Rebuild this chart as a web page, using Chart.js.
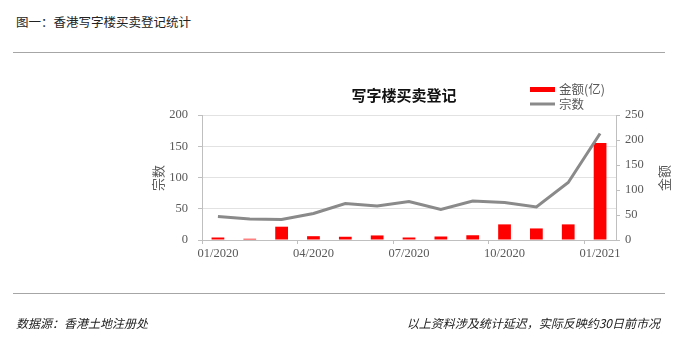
<!DOCTYPE html>
<html>
<head>
<meta charset="utf-8">
<script src="https://cdn.jsdelivr.net/npm/chart.js@4.4.0/dist/chart.umd.min.js"></script>
<style>
  body { margin: 0; background: #fff; }
  #wrap { position: relative; width: 682px; height: 353px; overflow: hidden; }
  #myChart { position: absolute; left: 0; top: 0; }
  .txt { position: absolute; font-family: "Noto Sans CJK SC", sans-serif; color: #222; white-space: nowrap; }
  .rule { position: absolute; left: 13px; width: 652px; height: 1px; background: #a6a6a6; }
</style>
</head>
<body>
<div id="wrap">
  <div class="txt" style="left:16px; top:12px; font-size:12.5px;">图一：香港写字楼买卖登记统计</div>
  <div class="rule" style="top:52px;"></div>
  <canvas id="myChart" width="682" height="353"></canvas>
  <div class="rule" style="top:293px;"></div>
  <div class="txt" style="left:16px; top:314px; font-size:12px; font-style:italic;">数据源：香港土地注册处</div>
  <div class="txt" style="right:22px; top:314px; font-size:12px; font-style:italic;">以上资料涉及统计延迟，实际反映约30日前市况</div>
</div>
<script>
let monthLabels = [
  "01/2020", "02/2020", "03/2020", "04/2020", "05/2020", "06/2020", "07/2020",
  "08/2020", "09/2020", "10/2020", "11/2020", "12/2020", "01/2021",
];
// 金额(亿) - bars
let amountData = [4.0, 2.0, 21.3, 6.1, 5.2, 7.3, 4.0, 5.6, 7.6, 25.0, 18.5, 25.0, 155.2];
// 宗数 - line
let countData = [47, 42, 41, 53, 73, 68, 77, 61, 78, 75, 66, 115, 213];

const tickGrey = "#595959";
const axisGrey = "#bfbfbf";

// title, legend and axis titles drawn at fixed spots
const extrasPlugin = {
  id: "extras",
  afterDraw(chart) {
    const ctx = chart.ctx;
    ctx.save();
    ctx.fillStyle = "#111";
    ctx.font = "bold 15px 'Noto Sans CJK SC'";
    ctx.textAlign = "center";
    ctx.textBaseline = "middle";
    ctx.fillText("写字楼买卖登记", 404, 95);

    // legend
    ctx.fillStyle = "#ff0000";
    ctx.fillRect(530, 87, 25, 5);
    ctx.strokeStyle = "#8a8a8a";
    ctx.lineWidth = 3;
    ctx.beginPath();
    ctx.moveTo(530, 104);
    ctx.lineTo(555, 104);
    ctx.stroke();
    ctx.fillStyle = tickGrey;
    ctx.font = "12.5px 'Noto Sans CJK SC'";
    ctx.textAlign = "left";
    ctx.fillText("金额(亿)", 559, 89.5);
    ctx.fillText("宗数", 559, 104);

    // axis titles, both reading bottom to top
    const drawVert = (text, x, y) => {
      ctx.save();
      ctx.translate(x, y);
      ctx.rotate(-Math.PI / 2);
      ctx.textAlign = "center";
      ctx.fillText(text, 0, 0);
      ctx.restore();
    };
    ctx.font = "13px 'Noto Sans CJK SC'";
    drawVert("宗数", 158, 178);
    drawVert("金额", 664, 178);
    ctx.restore();
  },
};

Chart.defaults.font.family = "'Liberation Serif', 'Noto Sans CJK SC', serif";
Chart.defaults.color = tickGrey;

const config = {
  data: {
    labels: monthLabels,
    datasets: [
      {
        type: "line",
        label: "宗数",
        data: countData,
        yAxisID: "y1",
        borderColor: "#8a8a8a",
        borderWidth: 3,
        pointRadius: 0,
        tension: 0,
        order: 0,
      },
      {
        type: "bar",
        label: "金额(亿)",
        data: amountData,
        yAxisID: "y",
        backgroundColor: "#ff0000",
        barPercentage: 0.4,
        categoryPercentage: 1,
        order: 1,
      },
    ],
  },
  options: {
    responsive: false,
    animation: false,
    layout: { padding: { top: 115, left: 0, right: 0, bottom: 82 } },
    plugins: {
      legend: { display: false },
      title: { display: false },
      tooltip: { enabled: false },
    },
    scales: {
      x: {
        offset: true,
        grid: {
          offset: true,
          drawOnChartArea: false,
          tickLength: 4,
          tickColor: (c) => (c.index % 3 === 0 ? axisGrey : "rgba(0,0,0,0)"),
        },
        border: { color: axisGrey },
        ticks: {
          autoSkip: false,
          maxRotation: 0,
          padding: 2,
          font: { size: 12.5 },
          callback: (v, i) => (i % 3 === 0 ? monthLabels[i] : ""),
        },
        afterFit: (s) => { s.height = 31; },
      },
      y: {
        position: "left",
        min: 0,
        max: 200,
        grid: { color: "#e2e2e2", tickLength: 4, tickColor: axisGrey },
        border: { color: axisGrey },
        ticks: { stepSize: 50, padding: 10, font: { size: 12.5 } },
        afterFit: (s) => { s.width = 202; },
      },
      y1: {
        position: "right",
        min: 0,
        max: 250,
        grid: { drawOnChartArea: false, tickLength: 4, tickColor: axisGrey },
        border: { color: axisGrey },
        ticks: { stepSize: 50, padding: 5, font: { size: 12.5 } },
        afterFit: (s) => { s.width = 66; },
      },
    },
  },
  plugins: [extrasPlugin],
};

let myChart = new Chart(document.getElementById("myChart"), config);
</script>
</body>
</html>
